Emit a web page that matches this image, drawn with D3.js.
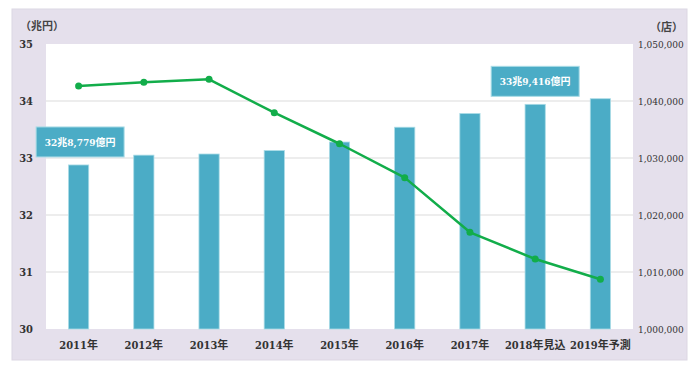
<!DOCTYPE html>
<meta charset="utf-8">
<style>
body { margin: 0; background: #fff; }
</style>
<svg width="700" height="370"></svg>
<script src="https://d3js.org/d3.v7.min.js"></script>
<script>

var categories = ["2011年", "2012年", "2013年", "2014年", "2015年", "2016年", "2017年", "2018年見込", "2019年予測"];
var sales = [32.8779, 33.05, 33.07, 33.13, 33.28, 33.54, 33.78, 33.9416, 34.04];   // 兆円
var stores = [1042630, 1043280, 1043800, 1037950, 1032500, 1026550, 1016960, 1012280, 1008720]; // 店
var leftTicks = [30, 31, 32, 33, 34, 35];
var rightTicks = [1000000, 1010000, 1020000, 1030000, 1040000, 1050000];
var callouts = [
  {idx: 0, label: "32兆8,779億円"},
  {idx: 7, label: "33兆9,416億円"}
];

var FONT = "'DejaVu Serif Condensed', 'DejaVu Serif', 'Noto Sans CJK JP', serif";

var svg = d3.select("svg"),
    panel = {left: 12, top: 9, right: 687, bottom: 360},
    margin = {top: 44, right: 67, bottom: 41, left: 46},
    width = +svg.attr("width"),
    height = +svg.attr("height");

var barColor = "#4bacc6",
    lineColor = "#12ad4a";

// lavender panel + white plot area
svg.append("rect")
    .attr("x", panel.left).attr("y", panel.top)
    .attr("width", panel.right - panel.left).attr("height", panel.bottom - panel.top)
    .attr("fill", "#e5e0ec")
    .attr("stroke", "#dcd7e3");

svg.append("rect")
    .attr("x", margin.left).attr("y", margin.top)
    .attr("width", width - margin.right - margin.left)
    .attr("height", height - margin.bottom - margin.top)
    .attr("fill", "#fff");

var x = d3.scaleBand()
    .domain(categories)
    .range([margin.left, width - margin.right])
    .paddingInner(0.69)
    .paddingOuter(0.345);

var y = d3.scaleLinear()
    .domain([30, 35])
    .range([height - margin.bottom, margin.top]);

var y2 = d3.scaleLinear()
    .domain([1000000, 1050000])
    .range([height - margin.bottom, margin.top]);

// gridlines
svg.append("g")
  .selectAll("line")
  .data(leftTicks.slice(1, -1))
  .enter().append("line")
    .attr("x1", margin.left)
    .attr("x2", width - margin.right)
    .attr("y1", function(d) { return y(d); })
    .attr("y2", function(d) { return y(d); })
    .attr("stroke", "#dcdcdc")
    .attr("stroke-width", 1.2);

// left axis
var leftAxis = svg.append("g")
    .attr("transform", "translate(" + margin.left + ",0)")
    .call(d3.axisLeft(y).tickValues(leftTicks).tickFormat(d3.format("d")).tickSize(0).tickPadding(13));
leftAxis.select(".domain").remove();
leftAxis.selectAll("text")
    .style("font-family", FONT)
    .style("font-weight", "bold")
    .style("font-size", "11px")
    .attr("fill", "#333");

// right axis
var rightAxis = svg.append("g")
    .attr("transform", "translate(" + (width - margin.right) + ",0)")
    .call(d3.axisRight(y2).tickValues(rightTicks).tickSize(0).tickPadding(5).tickFormat(d3.format(",")));
rightAxis.select(".domain").remove();
rightAxis.selectAll("text")
    .style("font-family", FONT)
    .style("font-size", "10px")
    .attr("fill", "#333");

// bottom axis
var bottomAxis = svg.append("g")
    .attr("transform", "translate(0," + (height - margin.bottom) + ")")
    .call(d3.axisBottom(x).tickSize(0).tickPadding(12));
bottomAxis.select(".domain").remove();
bottomAxis.selectAll("text")
    .style("font-family", FONT)
    .style("font-weight", "bold")
    .style("font-size", "11px")
    .attr("fill", "#333");

// units
svg.append("text")
    .attr("x", 20).attr("y", 30)
    .style("font-family", FONT).style("font-size", "11px").style("font-weight", "bold")
    .attr("fill", "#444")
    .text("（兆円）");
svg.append("text")
    .attr("x", 650).attr("y", 31)
    .style("font-family", FONT).style("font-size", "11px").style("font-weight", "bold")
    .attr("fill", "#444")
    .text("（店）");

// bars
svg.append("g")
  .selectAll("rect")
  .data(sales)
  .enter().append("rect")
    .attr("x", function(d, i) { return x(categories[i]); })
    .attr("y", function(d) { return y(d); })
    .attr("width", x.bandwidth())
    .attr("height", function(d) { return y(30) - y(d); })
    .attr("fill", barColor)
    .attr("stroke", "#a9dbe6")
    .attr("stroke-width", 0.8);

// line
var line = d3.line()
    .x(function(d, i) { return x(categories[i]) + x.bandwidth() / 2; })
    .y(function(d) { return y2(d); });

svg.append("path")
    .datum(stores)
    .attr("fill", "none")
    .attr("stroke", lineColor)
    .attr("stroke-width", 2.5)
    .attr("stroke-linejoin", "round")
    .attr("d", line);

svg.append("g")
  .selectAll("circle")
  .data(stores)
  .enter().append("circle")
    .attr("cx", function(d, i) { return x(categories[i]) + x.bandwidth() / 2; })
    .attr("cy", function(d) { return y2(d); })
    .attr("r", 3.5)
    .attr("fill", lineColor);

// callout boxes
var boxW = 88, boxH = 30;
var box = svg.append("g")
  .selectAll("g")
  .data(callouts)
  .enter().append("g")
    .attr("transform", function(d) {
      var cx = x(categories[d.idx]) + x.bandwidth() / 2;
      return "translate(" + (cx - boxW / 2 + (d.idx === 0 ? 1.5 : 0)) + "," + (y(sales[d.idx]) - boxH - 8) + ")";
    });

box.append("rect")
    .attr("width", boxW)
    .attr("height", boxH)
    .attr("fill", barColor)
    .attr("stroke", "#a9dbe6")
    .attr("stroke-width", 1);

box.append("text")
    .attr("x", boxW / 2)
    .attr("y", boxH / 2 + 4)
    .attr("text-anchor", "middle")
    .style("font-family", FONT)
    .style("font-size", "10px")
    .style("font-weight", "bold")
    .attr("fill", "#fff")
    .text(function(d) { return d.label; });

</script>
